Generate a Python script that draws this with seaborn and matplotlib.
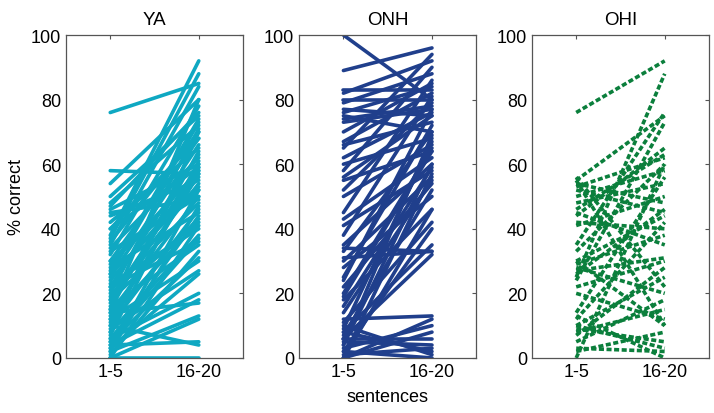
import matplotlib

matplotlib.use("Agg")
import matplotlib.pyplot as plt
import pandas as pd
import seaborn as sns

# % correct for sentences 1-5 and 16-20, one pair per listener
groups = ["YA", "ONH", "OHI"]
sentence_labels = ["1-5", "16-20"]

ya_first = [76, 58, 54, 50, 48, 46, 44, 42, 38, 37, 36, 35, 34, 33, 32, 30, 29,
            28, 27, 26, 25, 24, 23, 22, 21, 20, 19, 18, 17, 16, 15, 14, 13, 12,
            11, 10, 9, 8, 7, 6, 5, 4, 3, 2, 1, 0, 0, 0, 10, 4, 14, 3, 22, 40,
            47, 12, 8, 2, 5, 15, 18, 30, 40, 45, 26, 6]
ya_last = [85, 57, 80, 75, 72, 60, 55, 65, 92, 88, 70, 84, 62, 50, 78, 68, 58,
           45, 74, 52, 66, 56, 40, 63, 48, 71, 54, 43, 60, 35, 64, 50, 42, 30,
           58, 46, 27, 38, 61, 20, 44, 18, 52, 13, 33, 0, 12, 41, 4, 5, 17, 26,
           36, 68, 76, 57, 70, 47, 31, 80, 59, 53, 59, 49, 73, 37]

onh_first = [100, 89, 83, 82, 80, 79, 77, 76, 75, 74, 70, 67, 66, 62, 60, 58,
             55, 52, 50, 43, 41, 38, 35, 34, 33, 30, 28, 24, 22, 20, 18, 16, 12,
             11, 9, 8, 7, 6, 5, 4, 3, 2, 1, 0, 0, 0, 10, 6, 2, 25, 45, 31, 14,
             4, 56, 65, 73, 0, 19, 8]
onh_last = [80, 96, 83, 92, 80, 88, 75, 84, 70, 78, 85, 82, 73, 76, 68, 90, 64,
            79, 66, 62, 58, 81, 60, 33, 70, 56, 50, 77, 54, 65, 46, 59, 13, 42,
            67, 35, 52, 32, 4, 60, 10, 40, 3, 12, 8, 57, 1, 6, 0, 72, 86, 33,
            55, 69, 75, 94, 77, 46, 64, 2]

ohi_first = [76, 55, 54, 53, 52, 50, 48, 46, 44, 42, 41, 35, 33, 30, 29, 28, 27,
             25, 24, 22, 20, 14, 12, 10, 9, 8, 7, 5, 3, 2, 0, 13, 10, 56, 45,
             30, 26, 55]
ohi_last = [92, 75, 48, 62, 45, 58, 54, 63, 65, 40, 50, 76, 60, 44, 38, 20, 31,
            88, 73, 30, 12, 56, 42, 25, 5, 15, 28, 18, 2, 8, 60, 0, 3, 22, 35,
            10, 46, 10]

colors = {"YA": "#0fa8c2", "ONH": "#203f8c", "OHI": "#0b7f3c"}
styles = {"YA": "-", "ONH": "-", "OHI": (0, (1.4, 0.7))}

rows = []
for group, first, last in [("YA", ya_first, ya_last),
                           ("ONH", onh_first, onh_last),
                           ("OHI", ohi_first, ohi_last)]:
    for i, (a, b) in enumerate(zip(first, last)):
        rows.append({"group": group, "subject": f"{group}{i}", "block": 1, "score": a})
        rows.append({"group": group, "subject": f"{group}{i}", "block": 2, "score": b})
df = pd.DataFrame(rows)

sns.set_style("white")
plt.rcParams["font.family"] = ["Liberation Sans", "DejaVu Sans"]
plt.rcParams["xtick.direction"] = "in"
plt.rcParams["ytick.direction"] = "in"
plt.rcParams["text.color"] = "black"
plt.rcParams["xtick.labelcolor"] = "black"
plt.rcParams["ytick.labelcolor"] = "black"
plt.rcParams["axes.labelcolor"] = "black"

fig = plt.figure(figsize=(7.14, 4.14), dpi=100)
lefts = [0.0924, 0.419, 0.745]
for i, (group, left) in enumerate(zip(groups, lefts)):
    ax = fig.add_axes([left, 0.133, 0.248, 0.780])
    sns.lineplot(
        data=df[df["group"] == group],
        x="block",
        y="score",
        units="subject",
        estimator=None,
        color=colors[group],
        linewidth=2.6,
        linestyle=styles[group],
        ax=ax,
    )
    ax.set_xlim(0.5, 2.5)
    ax.set_ylim(0, 100)
    ax.set_xticks([1, 2])
    ax.set_xticklabels(sentence_labels)
    ax.set_yticks(range(0, 101, 20))
    ax.set_title(group, fontsize=13.5, pad=8, color="black")
    ax.tick_params(labelsize=13, length=3, color="#555555", top=True, right=True)
    for spine in ax.spines.values():
        spine.set_color("#555555")
        spine.set_linewidth(0.9)
    ax.set_ylabel("% correct" if i == 0 else "", fontsize=13)
    ax.set_xlabel("sentences" if i == 1 else "", fontsize=13, labelpad=6)

fig.savefig("out.png", dpi=100)
